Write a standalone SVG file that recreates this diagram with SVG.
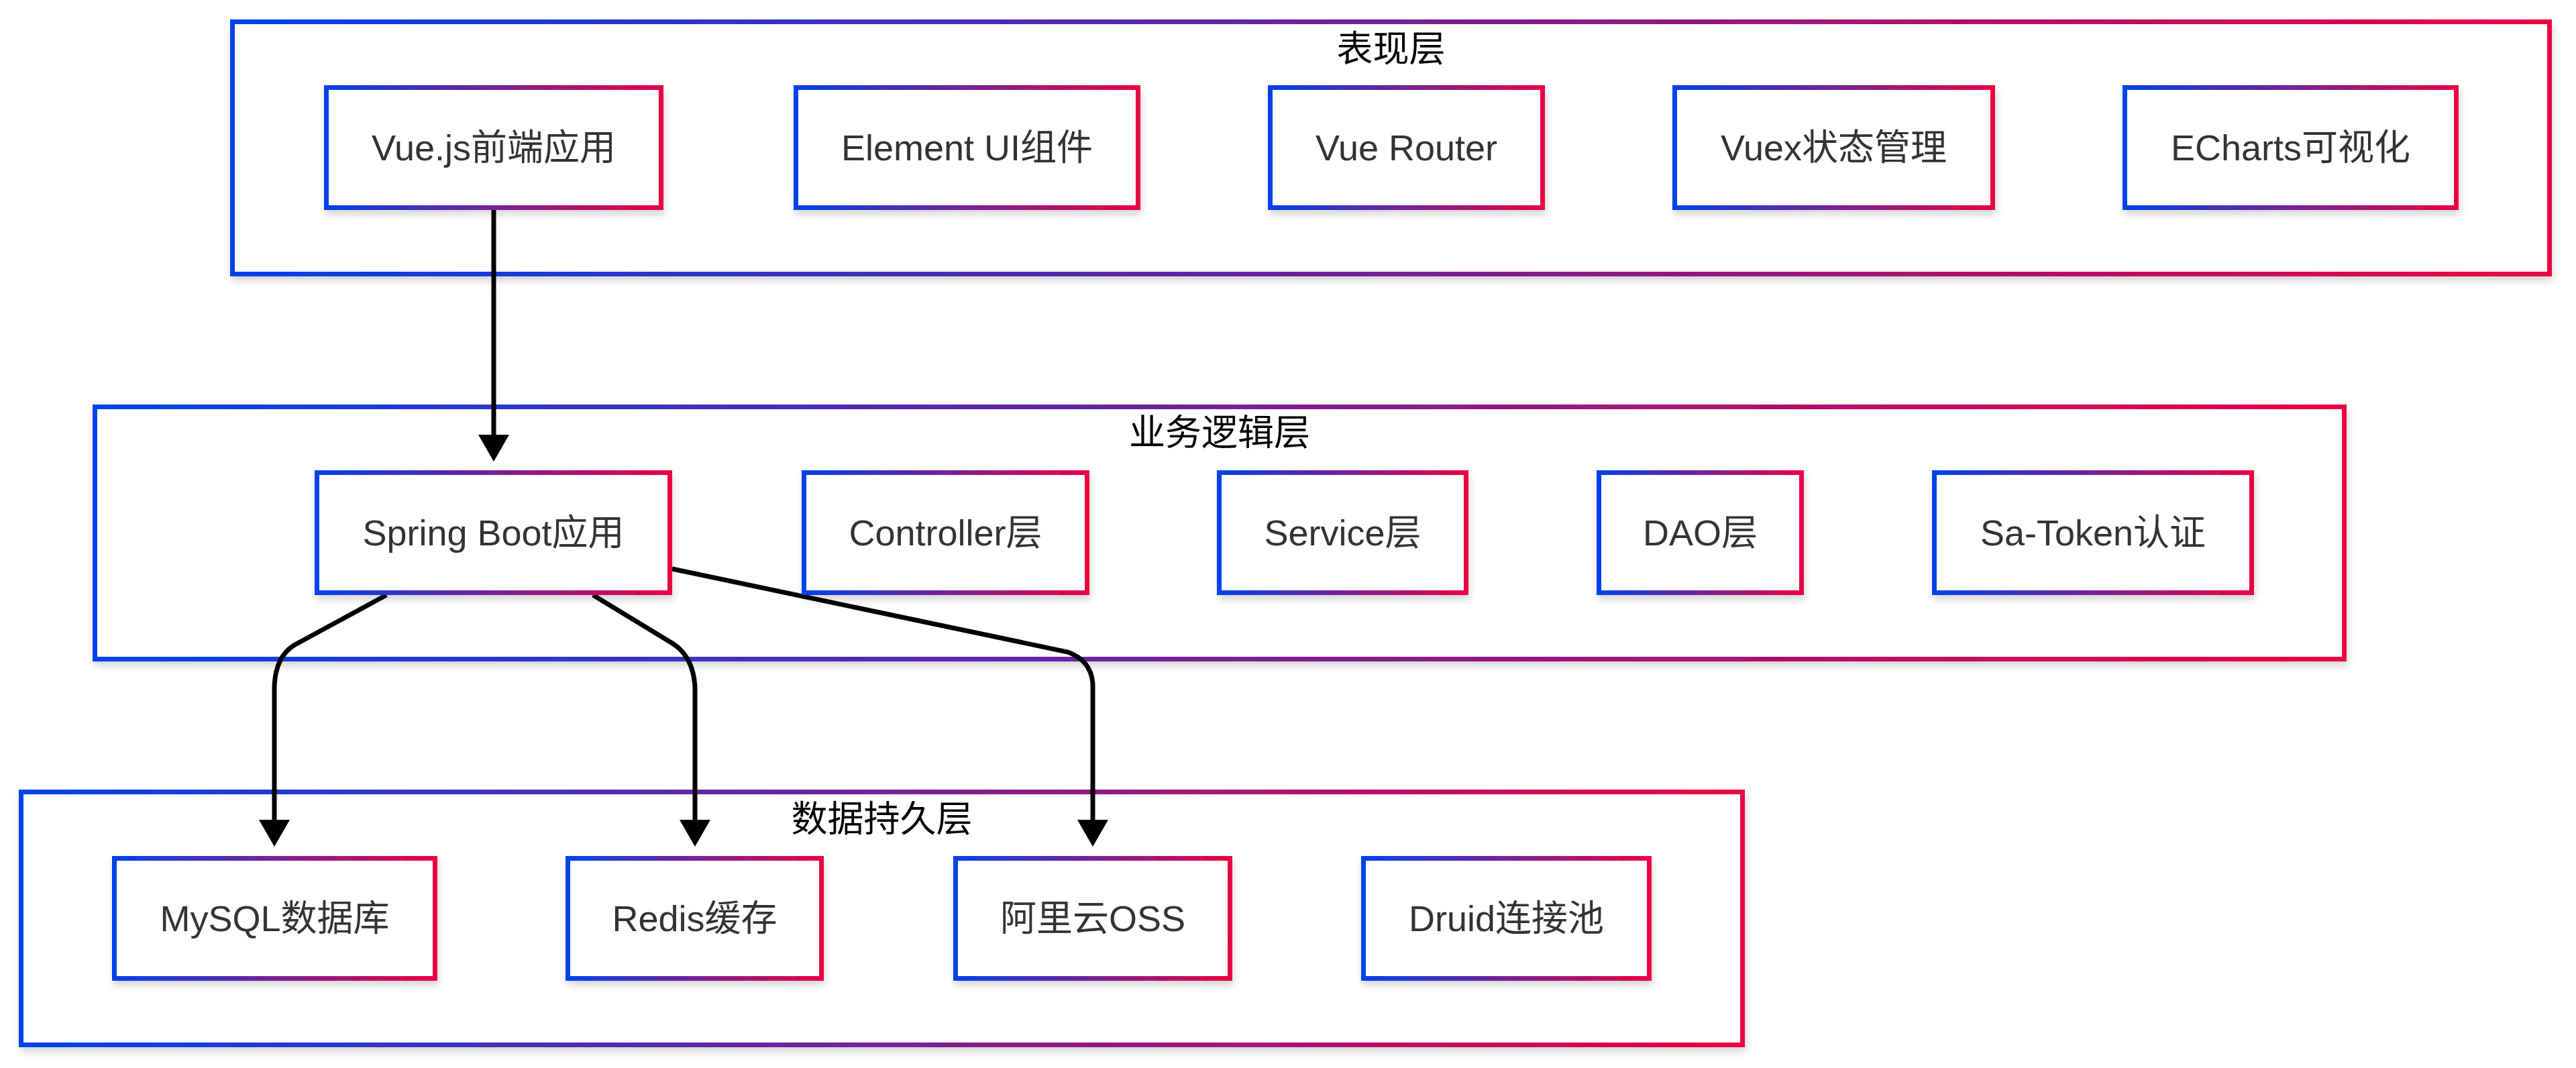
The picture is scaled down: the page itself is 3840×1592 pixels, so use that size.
<svg xmlns="http://www.w3.org/2000/svg" width="3840" height="1592" viewBox="0 0 3840 1592">
  <defs>
    <linearGradient id="grad" x1="0" y1="0" x2="1" y2="0">
      <stop offset="0" stop-color="#0042eb"/>
      <stop offset="1" stop-color="#eb0042"/>
    </linearGradient>
    <filter id="shadow" x="-5%" y="-10%" width="110%" height="130%">
      <feDropShadow dx="2" dy="7" stdDeviation="6" flood-color="#000000" flood-opacity="0.16"/>
    </filter>
    <marker id="arrow" viewBox="0 0 40 46" markerWidth="40" markerHeight="46" refX="0" refY="23" orient="auto" markerUnits="userSpaceOnUse">
      <path d="M0,0 L40,23 L0,46 Z" fill="#000000"/>
    </marker>
  </defs>
  <style>
    .box { fill: #ffffff; stroke: url(#grad); stroke-width: 7; filter: url(#shadow); }
    .lbl { font-family: "Liberation Sans", Arial, "Noto Sans CJK SC", sans-serif; font-size: 54px; fill: #333333; text-anchor: middle; }
    .title { font-family: "Liberation Sans", Arial, "Noto Sans CJK SC", sans-serif; font-size: 54px; fill: #000000; text-anchor: middle; }
    .edge { fill: none; stroke: #000000; stroke-width: 7; marker-end: url(#arrow); }
  </style>
  <rect x="0" y="0" width="3840" height="1592" fill="#ffffff"/>

  <g id="clusters">
    <g id="cluster-presentation">
      <rect class="box" x="346.5" y="32.5" width="3454" height="376"/>
      <text class="title" x="2073.5" y="92">表现层</text>
    </g>
    <g id="cluster-business">
      <rect class="box" x="141.5" y="606.5" width="3353" height="376"/>
      <text class="title" x="1818" y="664">业务逻辑层</text>
    </g>
    <g id="cluster-data">
      <rect class="box" x="31.5" y="1180.5" width="2566" height="377"/>
      <text class="title" x="1314.5" y="1240">数据持久层</text>
    </g>
  </g>

  <g id="edges">
    <path class="edge" d="M736,313 L736,648"/>
    <path class="edge" d="M576,887 L438,962 Q410,980 409,1025 L409,1222"/>
    <path class="edge" d="M884,887 L1004,960 Q1034,980 1036,1025 L1036,1222"/>
    <path class="edge" d="M1002,848 L1592,972 Q1627,985 1629,1020 L1629,1222"/>
  </g>

  <g id="nodes">
    <g id="n-vue">
      <rect class="box" x="486.5" y="130.5" width="499" height="179"/>
      <text class="lbl" x="736" y="239">Vue.js前端应用</text>
    </g>
    <g id="n-element">
      <rect class="box" x="1186.5" y="130.5" width="510" height="179"/>
      <text class="lbl" x="1441.5" y="239">Element UI组件</text>
    </g>
    <g id="n-router">
      <rect class="box" x="1893.5" y="130.5" width="406" height="179"/>
      <text class="lbl" x="2096.5" y="239">Vue Router</text>
    </g>
    <g id="n-vuex">
      <rect class="box" x="2496.5" y="130.5" width="474" height="179"/>
      <text class="lbl" x="2733.5" y="239">Vuex状态管理</text>
    </g>
    <g id="n-echarts">
      <rect class="box" x="3167.5" y="130.5" width="494" height="179"/>
      <text class="lbl" x="3414.5" y="239">ECharts可视化</text>
    </g>

    <g id="n-spring">
      <rect class="box" x="472.5" y="704.5" width="526" height="179"/>
      <text class="lbl" x="735.5" y="813">Spring Boot应用</text>
    </g>
    <g id="n-controller">
      <rect class="box" x="1198.5" y="704.5" width="422" height="179"/>
      <text class="lbl" x="1409.5" y="813">Controller层</text>
    </g>
    <g id="n-service">
      <rect class="box" x="1817.5" y="704.5" width="368" height="179"/>
      <text class="lbl" x="2001.5" y="813">Service层</text>
    </g>
    <g id="n-dao">
      <rect class="box" x="2383.5" y="704.5" width="302" height="179"/>
      <text class="lbl" x="2534.5" y="813">DAO层</text>
    </g>
    <g id="n-satoken">
      <rect class="box" x="2883.5" y="704.5" width="473" height="179"/>
      <text class="lbl" x="3120" y="813">Sa-Token认证</text>
    </g>

    <g id="n-mysql">
      <rect class="box" x="170.5" y="1279.5" width="478" height="179"/>
      <text class="lbl" x="409.5" y="1388">MySQL数据库</text>
    </g>
    <g id="n-redis">
      <rect class="box" x="846.5" y="1279.5" width="378" height="179"/>
      <text class="lbl" x="1035.5" y="1388">Redis缓存</text>
    </g>
    <g id="n-oss">
      <rect class="box" x="1424.5" y="1279.5" width="409" height="179"/>
      <text class="lbl" x="1629" y="1388">阿里云OSS</text>
    </g>
    <g id="n-druid">
      <rect class="box" x="2032.5" y="1279.5" width="426" height="179"/>
      <text class="lbl" x="2245.5" y="1388">Druid连接池</text>
    </g>
  </g>
</svg>
